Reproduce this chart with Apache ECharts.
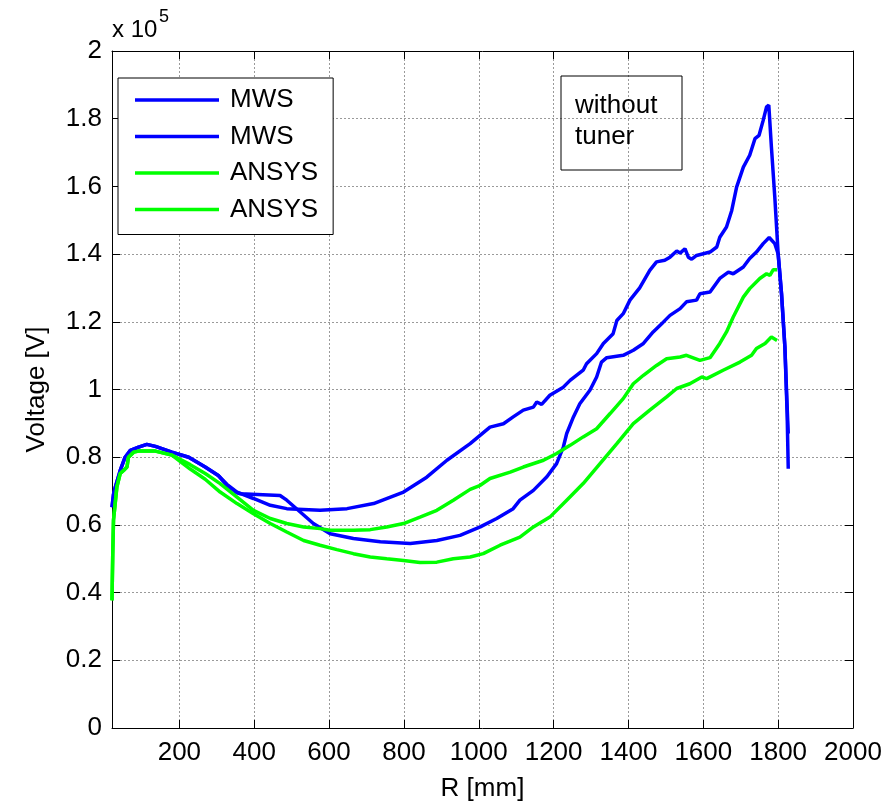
<!DOCTYPE html>
<html>
<head>
<meta charset="utf-8">
<script src="https://cdn.jsdelivr.net/npm/echarts@6/dist/echarts.min.js"></script>
<style>
html,body{margin:0;padding:0;background:#fff;}
#chart{width:891px;height:802px;}
</style>
</head>
<body>
<div id="chart"></div>
<script>
// ---- data (R in mm, voltage in units of 1e5 V) ----
var xTicks = [200, 400, 600, 800, 1000, 1200, 1400, 1600, 1800, 2000];

var mwsAx = [20, 24, 29, 42, 55, 69, 91, 113, 136, 180, 225, 269, 304, 327, 354, 398, 443, 487, 576, 648, 719, 799, 861, 915, 977, 1030, 1066, 1092, 1119, 1146, 1155, 1168, 1190, 1226, 1244, 1279, 1288, 1315, 1333, 1359, 1369, 1386, 1404, 1430, 1457, 1475, 1497, 1511, 1529, 1538, 1551, 1560, 1569, 1582, 1600, 1618, 1636, 1644, 1662, 1676, 1689, 1707, 1724, 1738, 1749, 1760, 1769, 1775, 1782, 1791, 1800, 1809, 1818, 1824, 1827];
var mwsAy = [0.652, 0.69, 0.712, 0.761, 0.80, 0.82, 0.83, 0.838, 0.832, 0.815, 0.80, 0.771, 0.746, 0.72, 0.697, 0.678, 0.658, 0.648, 0.643, 0.648, 0.663, 0.697, 0.741, 0.791, 0.84, 0.889, 0.899, 0.919, 0.939, 0.948, 0.963, 0.956, 0.983, 1.007, 1.027, 1.057, 1.076, 1.106, 1.136, 1.165, 1.204, 1.224, 1.264, 1.30, 1.352, 1.377, 1.382, 1.391, 1.409, 1.403, 1.416, 1.391, 1.385, 1.396, 1.401, 1.406, 1.421, 1.45, 1.48, 1.529, 1.598, 1.657, 1.692, 1.741, 1.751, 1.795, 1.835, 1.84, 1.716, 1.569, 1.401, 1.283, 1.126, 0.929, 0.766];

var mwsBx = [20, 24, 29, 42, 55, 69, 91, 113, 136, 180, 225, 269, 304, 327, 354, 363, 469, 487, 523, 558, 603, 665, 737, 817, 888, 950, 1004, 1048, 1092, 1110, 1146, 1182, 1208, 1226, 1235, 1253, 1270, 1297, 1315, 1328, 1342, 1386, 1413, 1440, 1466, 1493, 1511, 1538, 1555, 1582, 1591, 1618, 1644, 1667, 1680, 1707, 1724, 1742, 1760, 1776, 1791, 1797, 1800, 1809, 1818, 1824, 1827];
var mwsBy = [0.652, 0.69, 0.712, 0.761, 0.80, 0.82, 0.83, 0.838, 0.832, 0.815, 0.80, 0.771, 0.746, 0.717, 0.695, 0.692, 0.687, 0.673, 0.638, 0.604, 0.574, 0.56, 0.55, 0.545, 0.554, 0.569, 0.594, 0.619, 0.648, 0.673, 0.702, 0.742, 0.781, 0.83, 0.87, 0.919, 0.958, 0.998, 1.037, 1.081, 1.094, 1.101, 1.116, 1.136, 1.17, 1.199, 1.219, 1.239, 1.259, 1.264, 1.283, 1.288, 1.328, 1.347, 1.342, 1.362, 1.387, 1.406, 1.431, 1.449, 1.431, 1.411, 1.40, 1.283, 1.126, 0.95, 0.87];

var ansCx = [20, 22, 24, 33, 42, 51, 60, 64, 78, 91, 136, 180, 229, 269, 309, 354, 398, 443, 487, 532, 576, 603, 665, 710, 754, 799, 843, 888, 932, 977, 1004, 1030, 1084, 1119, 1173, 1208, 1244, 1279, 1315, 1351, 1386, 1413, 1440, 1475, 1502, 1538, 1555, 1591, 1618, 1644, 1662, 1680, 1707, 1724, 1751, 1769, 1778, 1787, 1797];
var ansCy = [0.377, 0.515, 0.614, 0.712, 0.752, 0.761, 0.771, 0.80, 0.815, 0.818, 0.818, 0.806, 0.778, 0.752, 0.722, 0.682, 0.643, 0.619, 0.604, 0.594, 0.589, 0.584, 0.584, 0.586, 0.594, 0.604, 0.623, 0.643, 0.673, 0.705, 0.717, 0.737, 0.756, 0.771, 0.791, 0.811, 0.835, 0.86, 0.884, 0.929, 0.973, 1.017, 1.042, 1.071, 1.091, 1.096, 1.101, 1.086, 1.094, 1.136, 1.17, 1.214, 1.273, 1.298, 1.328, 1.342, 1.337, 1.354, 1.354];

var ansDx = [20, 22, 24, 33, 42, 51, 60, 64, 78, 91, 136, 180, 229, 269, 309, 354, 398, 443, 487, 532, 576, 621, 665, 710, 754, 799, 843, 888, 932, 977, 1012, 1057, 1110, 1146, 1190, 1235, 1279, 1324, 1369, 1413, 1457, 1502, 1529, 1564, 1596, 1609, 1653, 1698, 1729, 1742, 1765, 1782, 1797];
var ansDy = [0.377, 0.515, 0.614, 0.712, 0.752, 0.761, 0.771, 0.80, 0.815, 0.818, 0.818, 0.806, 0.765, 0.735, 0.697, 0.663, 0.633, 0.604, 0.579, 0.554, 0.54, 0.527, 0.515, 0.505, 0.50, 0.495, 0.489, 0.49, 0.50, 0.505, 0.515, 0.54, 0.564, 0.594, 0.623, 0.673, 0.722, 0.781, 0.84, 0.899, 0.939, 0.978, 1.003, 1.017, 1.037, 1.032, 1.057, 1.081, 1.101, 1.121, 1.136, 1.155, 1.145];

var seriesNames = ['MWS', 'MWS ', 'ANSYS', 'ANSYS '];
var seriesColors = ['#0000ff', '#0000ff', '#00ff00', '#00ff00'];

function zip(xs, ys) { return xs.map(function (x, i) { return [x, ys[i]]; }); }

var FONT = '"Liberation Sans", Arial, sans-serif';
var chart = echarts.init(document.getElementById('chart'), null, {renderer: 'canvas'});

var gridStyle = {show: true, lineStyle: {color: '#9a9a9a', type: [2, 2], width: 1}};

var option = {
  animation: false,
  backgroundColor: '#fff',
  grid: {left: 112, right: 38, top: 51, bottom: 74, containLabel: false, outerBoundsMode: 'none'},
  xAxis: [{
    type: 'value', min: 20, max: 2000, position: 'bottom',
    name: 'R [mm]', nameLocation: 'middle', nameGap: 48,
    nameTextStyle: {fontFamily: FONT, fontSize: 26, color: '#000'},
    axisLine: {show: true, onZero: false, lineStyle: {color: '#000', width: 1}},
    axisTick: {show: true, inside: true, length: 8, customValues: xTicks, lineStyle: {color: '#000'}},
    axisLabel: {show: true, customValues: xTicks, margin: 12, fontFamily: FONT, fontSize: 26, color: '#000',
      formatter: function (v) { return String(v); }},
    splitLine: gridStyle
  }, {
    type: 'value', min: 20, max: 2000, position: 'top',
    axisLine: {show: true, onZero: false, lineStyle: {color: '#000', width: 1}},
    axisTick: {show: true, inside: true, length: 8, customValues: xTicks, lineStyle: {color: '#000'}},
    axisLabel: {show: false},
    splitLine: {show: false}
  }],
  yAxis: [{
    type: 'value', min: 0, max: 2, interval: 0.2, position: 'left',
    name: 'Voltage [V]', nameLocation: 'middle', nameGap: 62,
    nameTextStyle: {fontFamily: FONT, fontSize: 26, color: '#000'},
    axisLine: {show: true, onZero: false, lineStyle: {color: '#000', width: 1}},
    axisTick: {show: true, inside: true, length: 8, lineStyle: {color: '#000'}},
    axisLabel: {show: true, margin: 10, fontFamily: FONT, fontSize: 26, color: '#000'},
    splitLine: gridStyle
  }, {
    type: 'value', min: 0, max: 2, interval: 0.2, position: 'right',
    axisLine: {show: true, onZero: false, lineStyle: {color: '#000', width: 1}},
    axisTick: {show: true, inside: true, length: 8, lineStyle: {color: '#000'}},
    axisLabel: {show: false},
    splitLine: {show: false}
  }],
  legend: {
    show: true, orient: 'vertical', left: 118, top: 78,
    data: seriesNames.slice(),
    formatter: function (n) { return n.trim(); },
    icon: 'rect', itemWidth: 84, itemHeight: 3.5, itemGap: 10.5,
    selectedMode: false,
    backgroundColor: '#fff', borderColor: '#000', borderWidth: 1, borderRadius: 0,
    padding: [9, 15, 12, 17],
    textStyle: {fontFamily: FONT, fontSize: 26, color: '#000', lineHeight: 26, padding: [0, 0, 0, 6]}
  },
  graphic: [
    {type: 'text', left: 112, top: 18, style: {text: 'x 10', font: '24px ' + FONT, fill: '#000'}},
    {type: 'text', left: 159, top: 8, style: {text: '5', font: '18px ' + FONT, fill: '#000'}},
    {type: 'rect', shape: {x: 561, y: 76, width: 121, height: 94}, style: {fill: 'none', stroke: '#000', lineWidth: 1}, z: 100},
    {type: 'text', x: 575, y: 90, style: {text: 'without\ntuner', font: '26px ' + FONT, fill: '#000', lineHeight: 31, verticalAlign: 'top'}, z: 100}
  ],
  series: [
    {name: seriesNames[0], type: 'line', data: zip(mwsAx, mwsAy)},
    {name: seriesNames[1], type: 'line', data: zip(mwsBx, mwsBy)},
    {name: seriesNames[2], type: 'line', data: zip(ansCx, ansCy)},
    {name: seriesNames[3], type: 'line', data: zip(ansDx, ansDy)}
  ].map(function (s, i) {
    s.showSymbol = false; s.symbol = 'none';
    s.color = seriesColors[i];
    s.lineStyle = {width: 3.5, color: seriesColors[i]};
    s.xAxisIndex = 0; s.yAxisIndex = 0;
    s.z = 2 + i;
    return s;
  })
};
chart.setOption(option);
</script>
</body>
</html>
